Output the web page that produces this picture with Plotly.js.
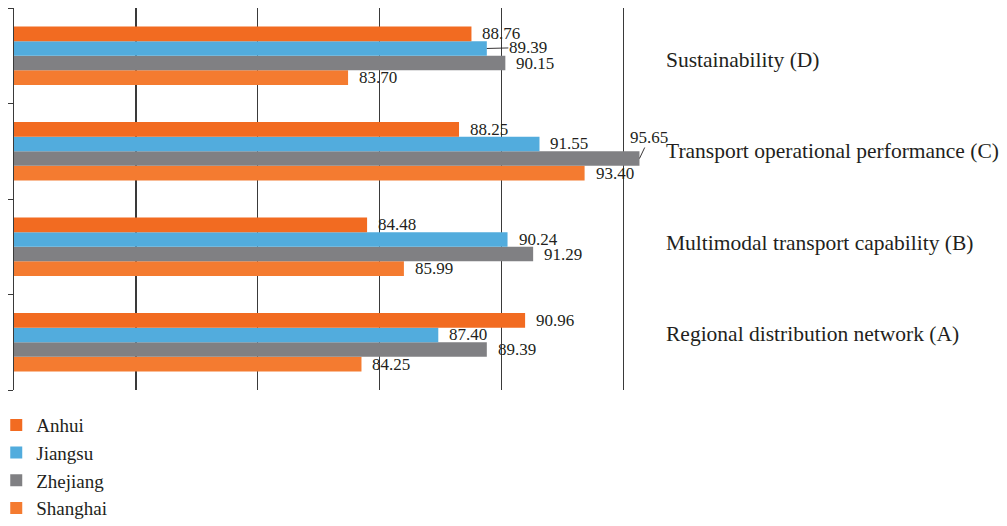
<!DOCTYPE html>
<html>
<head>
<meta charset="utf-8">
<script src="https://cdn.plot.ly/plotly-3.0.1.min.js"></script>
<style>html,body{margin:0;padding:0;background:#fff;}#chart{width:1007px;height:526px;}</style>
</head>
<body>
<div id="chart"></div>
<script>
const categories = [
  'Regional distribution network (A)',
  'Multimodal transport capability (B)',
  'Transport operational performance (C)',
  'Sustainability (D)'
];
const anhui    = [90.96, 84.48, 88.25, 88.76];
const jiangsu  = [87.40, 90.24, 91.55, 89.39];
const zhejiang = [89.39, 91.29, 95.65, 90.15];
const shanghai = [84.25, 85.99, 93.40, 83.70];
const seriesNames = ['Shanghai', 'Zhejiang', 'Jiangsu', 'Anhui'];
const seriesValues = [shanghai, zhejiang, jiangsu, anhui];
const seriesColors = ['#F47B30', '#808083', '#52ACDD', '#F26B21'];
const xTicks = [75, 80, 85, 90, 95];

const fontFam = '"Liberation Serif", "Times New Roman", serif';
const textCol = '#231F20';
const lineCol = '#3a3a3a';
const bargap = 0.39;

const traces = seriesNames.map((name, i) => ({
  type: 'bar',
  orientation: 'h',
  name: name,
  y: categories,
  x: seriesValues[i],
  marker: {color: seriesColors[i], line: {width: 0}},
  hoverinfo: 'x+name'
}));

// empty helper trace so that the label axis (yaxis2) is drawn
traces.push({
  type: 'scatter', mode: 'markers', x: [], y: [],
  yaxis: 'y2', showlegend: false, hoverinfo: 'skip'
});

// data labels as annotations, placed at each bar's end
const nS = seriesNames.length;
const bw = (1 - bargap) / nS;
// pixel offsets for the two labels drawn with a leader line, keyed 'series-category'
const leaderLabels = {'2-3': [41, -1], '1-2': [10, -21]};
const annotations = [];
seriesValues.forEach((vals, s) => {
  const off = -(1 - bargap) / 2 + bw * (s + 0.5);
  vals.forEach((v, c) => {
    const key = s + '-' + c;
    const base = {
      x: v, y: c + off, xref: 'x', yref: 'y',
      text: v.toFixed(2),
      borderpad: 0,
      font: {family: fontFam, size: 17, color: textCol}
    };
    if (leaderLabels[key]) {
      Object.assign(base, {
        showarrow: true, arrowhead: 0, arrowwidth: 0.9, arrowcolor: textCol,
        ax: leaderLabels[key][0], ay: leaderLabels[key][1], standoff: 0
      });
    } else {
      Object.assign(base, {showarrow: false, xanchor: 'left', yanchor: 'middle', xshift: 10});
    }
    annotations.push(base);
  });
});

const layout = {
  width: 1007,
  height: 526,
  margin: {l: 14, r: 359, t: 8, b: 136, autoexpand: false},
  paper_bgcolor: '#ffffff',
  plot_bgcolor: '#ffffff',
  font: {family: fontFam, color: textCol, size: 19},
  barmode: 'group',
  bargap: bargap,
  bargroupgap: 0,
  showlegend: true,
  legend: {
    orientation: 'v',
    traceorder: 'reversed',
    x: -0.028, xanchor: 'left',
    y: -0.042, yanchor: 'top',
    font: {family: fontFam, size: 19, color: textCol},
    bgcolor: 'rgba(0,0,0,0)'
  },
  annotations: annotations,
  xaxis: {
    range: [70, 96],
    tickvals: xTicks,
    showticklabels: false,
    showgrid: true,
    gridcolor: lineCol,
    gridwidth: 1.2,
    zeroline: false,
    showline: false,
    ticks: ''
  },
  yaxis: {
    type: 'category',
    categoryorder: 'array',
    categoryarray: categories,
    range: [-0.5, categories.length - 0.5],
    side: 'left',
    showticklabels: false,
    ticks: 'outside',
    tickson: 'boundaries',
    ticklen: 5,
    tickcolor: lineCol,
    showline: true,
    linecolor: lineCol,
    linewidth: 1.2,
    showgrid: false,
    zeroline: false
  },
  yaxis2: {
    overlaying: 'y',
    anchor: 'x',
    side: 'right',
    range: [-0.615, 3.56],
    tickvals: categories.map((c, i) => i),
    ticktext: categories,
    showgrid: false,
    zeroline: false,
    showline: false,
    ticks: '',
    ticklabelstandoff: 17,
    tickfont: {family: fontFam, size: 21.5, color: textCol}
  }
};

Plotly.newPlot('chart', traces, layout, {displayModeBar: false, staticPlot: true});
</script>
</body>
</html>
